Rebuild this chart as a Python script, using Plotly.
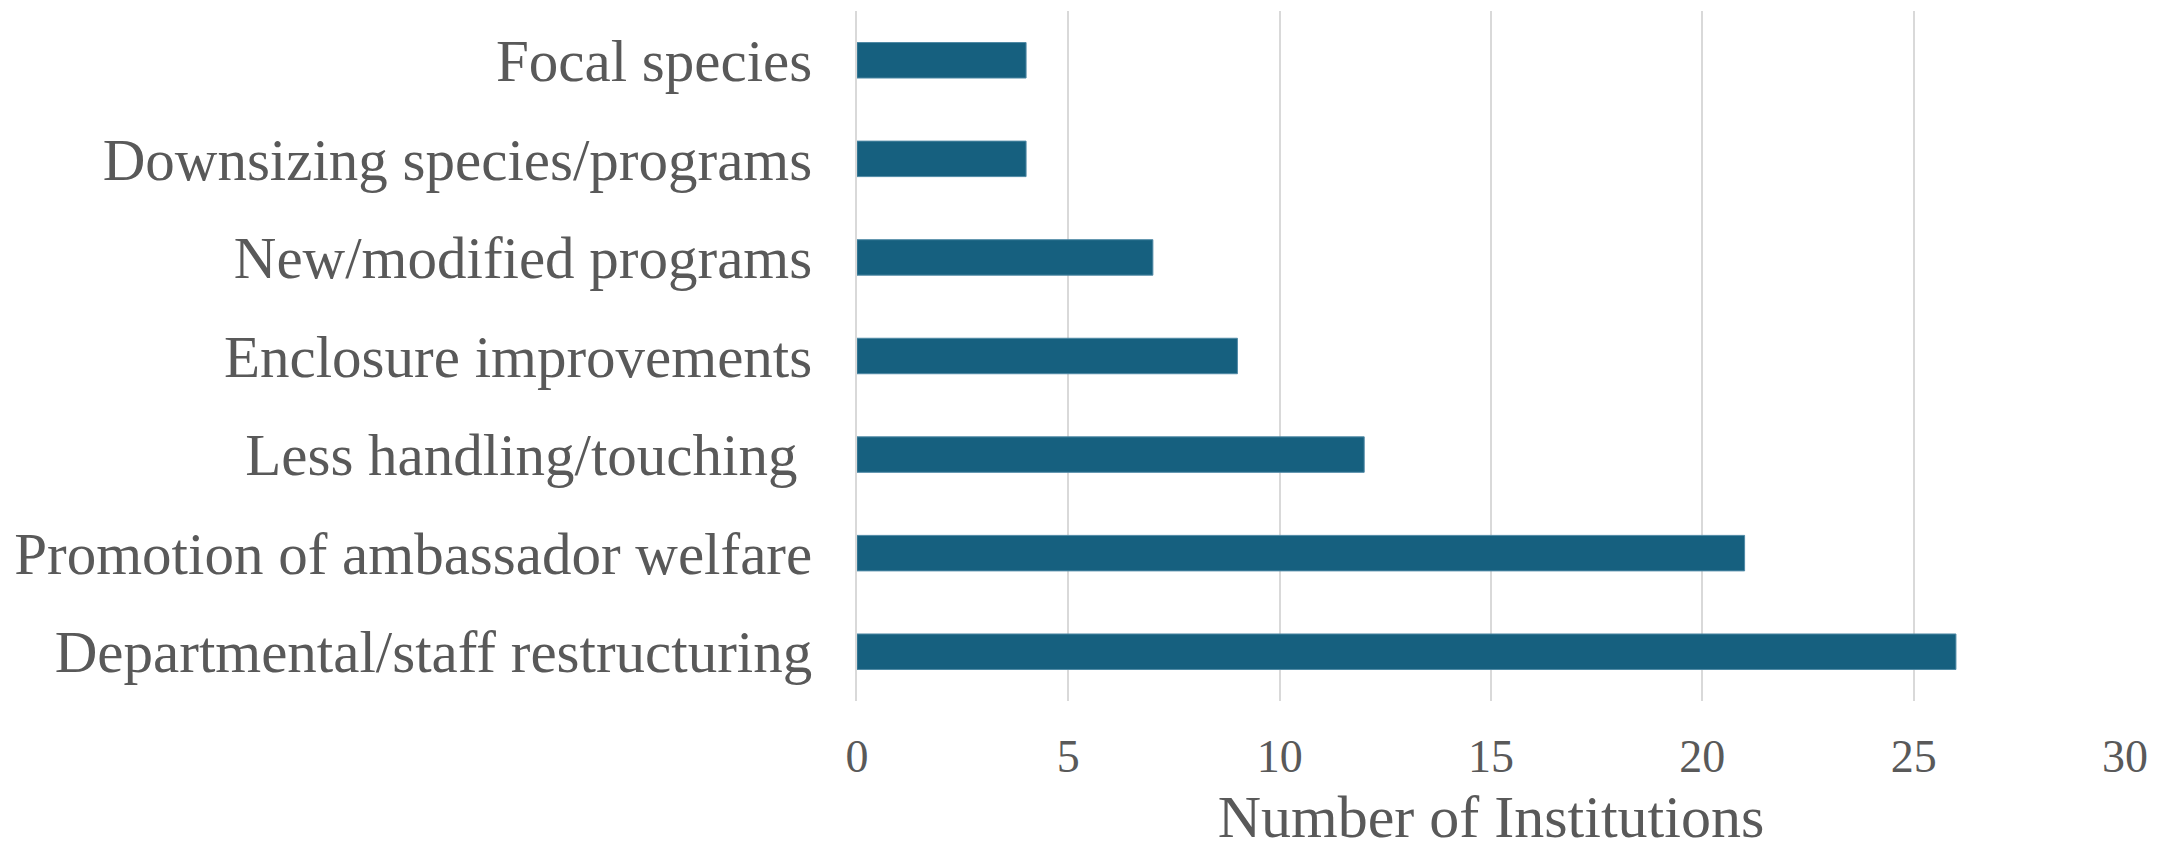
import plotly.graph_objects as go

categories = [
    "Focal species",
    "Downsizing species/programs",
    "New/modified programs",
    "Enclosure improvements",
    "Less handling/touching\u00a0",
    "Promotion of ambassador welfare",
    "Departmental/staff restructuring",
]
values = [4, 4, 7, 9, 12, 21, 26]
x_ticks = [0, 5, 10, 15, 20, 25, 30]

FONT = "Liberation Serif, Georgia, serif"
TEXT = "#595959"

fig = go.Figure(
    go.Bar(
        x=values,
        y=categories,
        orientation="h",
        width=0.36,
        marker=dict(color="#16607f", line=dict(color="#4f89a5", width=1)),
        hoverinfo="x+y",
    )
)

fig.update_layout(
    width=2170,
    height=842,
    margin=dict(l=849, r=53, t=3, b=149, autoexpand=False),
    plot_bgcolor="white",
    paper_bgcolor="white",
    showlegend=False,
    font=dict(family=FONT, color=TEXT),
)

fig.update_xaxes(
    automargin=True,
    range=[0, 30],
    tickvals=x_ticks,
    ticktext=[str(v) for v in x_ticks],
    showgrid=True,
    gridcolor="#d9d9d9",
    gridwidth=2,
    zeroline=False,
    showline=False,
    tickfont=dict(family=FONT, size=46, color=TEXT),
    ticklabelstandoff=24,
    title=dict(text="Number of Institutions", font=dict(family=FONT, size=60, color=TEXT), standoff=28),
)

fig.update_yaxes(
    automargin=False,
    autorange="reversed",
    showgrid=False,
    zeroline=False,
    showline=True,
    linecolor="#d9d9d9",
    linewidth=2,
    tickfont=dict(family=FONT, size=59, color=TEXT),
    ticklabelstandoff=31,
)

fig.write_html("out.html")
